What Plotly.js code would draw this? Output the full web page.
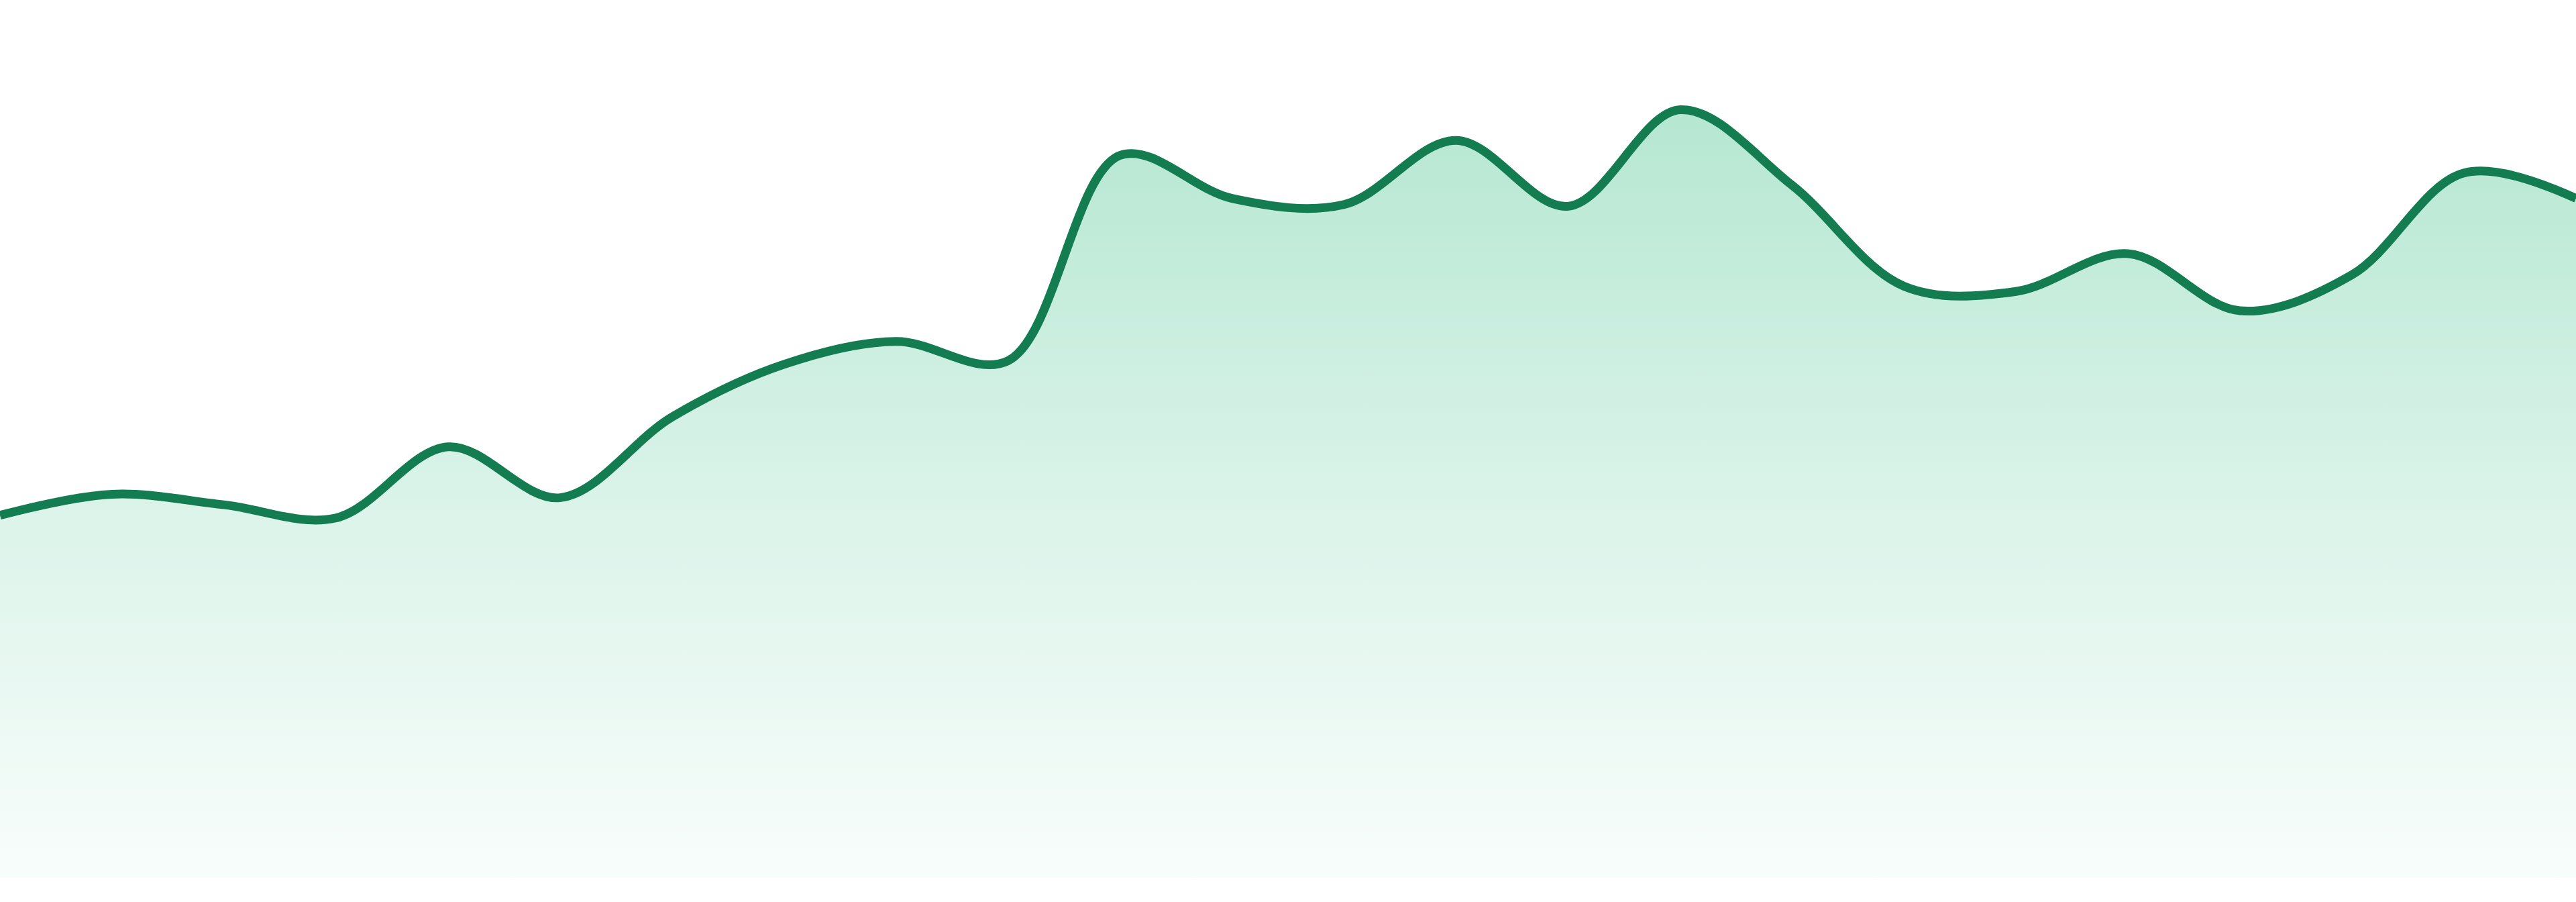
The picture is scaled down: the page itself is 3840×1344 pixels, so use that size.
<!DOCTYPE html>
<html>
<head>
<meta charset="utf-8">
<script src="https://cdn.plot.ly/plotly-3.0.1.min.js"></script>
<style>
  html, body { margin: 0; padding: 0; background: #fff; }
  #chart { width: 3840px; height: 1344px; }
</style>
</head>
<body>
<div id="chart"></div>
<script>
// one point per period
const periods = [1, 2, 3, 4, 5, 6, 7, 8, 9, 10, 11, 12, 13, 14, 15, 16, 17, 18, 19, 20, 21, 22, 23, 24];
const values = [
  41.3, 43.7, 42.5, 41.0, 49.1, 43.3, 52.5, 58.5, 61.1, 58.9, 82.3, 77.4,
  76.7, 84.0, 76.5, 87.5, 78.9, 67.4, 66.8, 71.1, 64.6, 68.7, 80.3, 77.4
];
const yMax = 100;

const lineColor = '#137c51';

const trace = {
  x: periods,
  y: values,
  type: 'scatter',
  mode: 'lines',
  line: { color: lineColor, width: 13, shape: 'spline', smoothing: 1 },
  fill: 'tozeroy',
  fillgradient: {
    type: 'vertical',
    start: 0,
    stop: Math.max(...values),
    colorscale: [
      [0, 'rgb(248,253,251)'],
      [0.5, 'rgb(218,243,233)'],
      [1, 'rgb(181,231,209)']
    ]
  },
  hoverinfo: 'skip'
};

const layout = {
  width: 3840,
  height: 1344,
  margin: { l: 0, r: 0, t: 0, b: 36, pad: 0 },
  paper_bgcolor: '#ffffff',
  plot_bgcolor: '#ffffff',
  showlegend: false,
  xaxis: {
    range: [periods[0], periods[periods.length - 1]],
    visible: false,
    fixedrange: true
  },
  yaxis: {
    range: [0, yMax],
    visible: false,
    fixedrange: true
  }
};

Plotly.newPlot('chart', [trace], layout, { displayModeBar: false, staticPlot: true });
</script>
</body>
</html>
